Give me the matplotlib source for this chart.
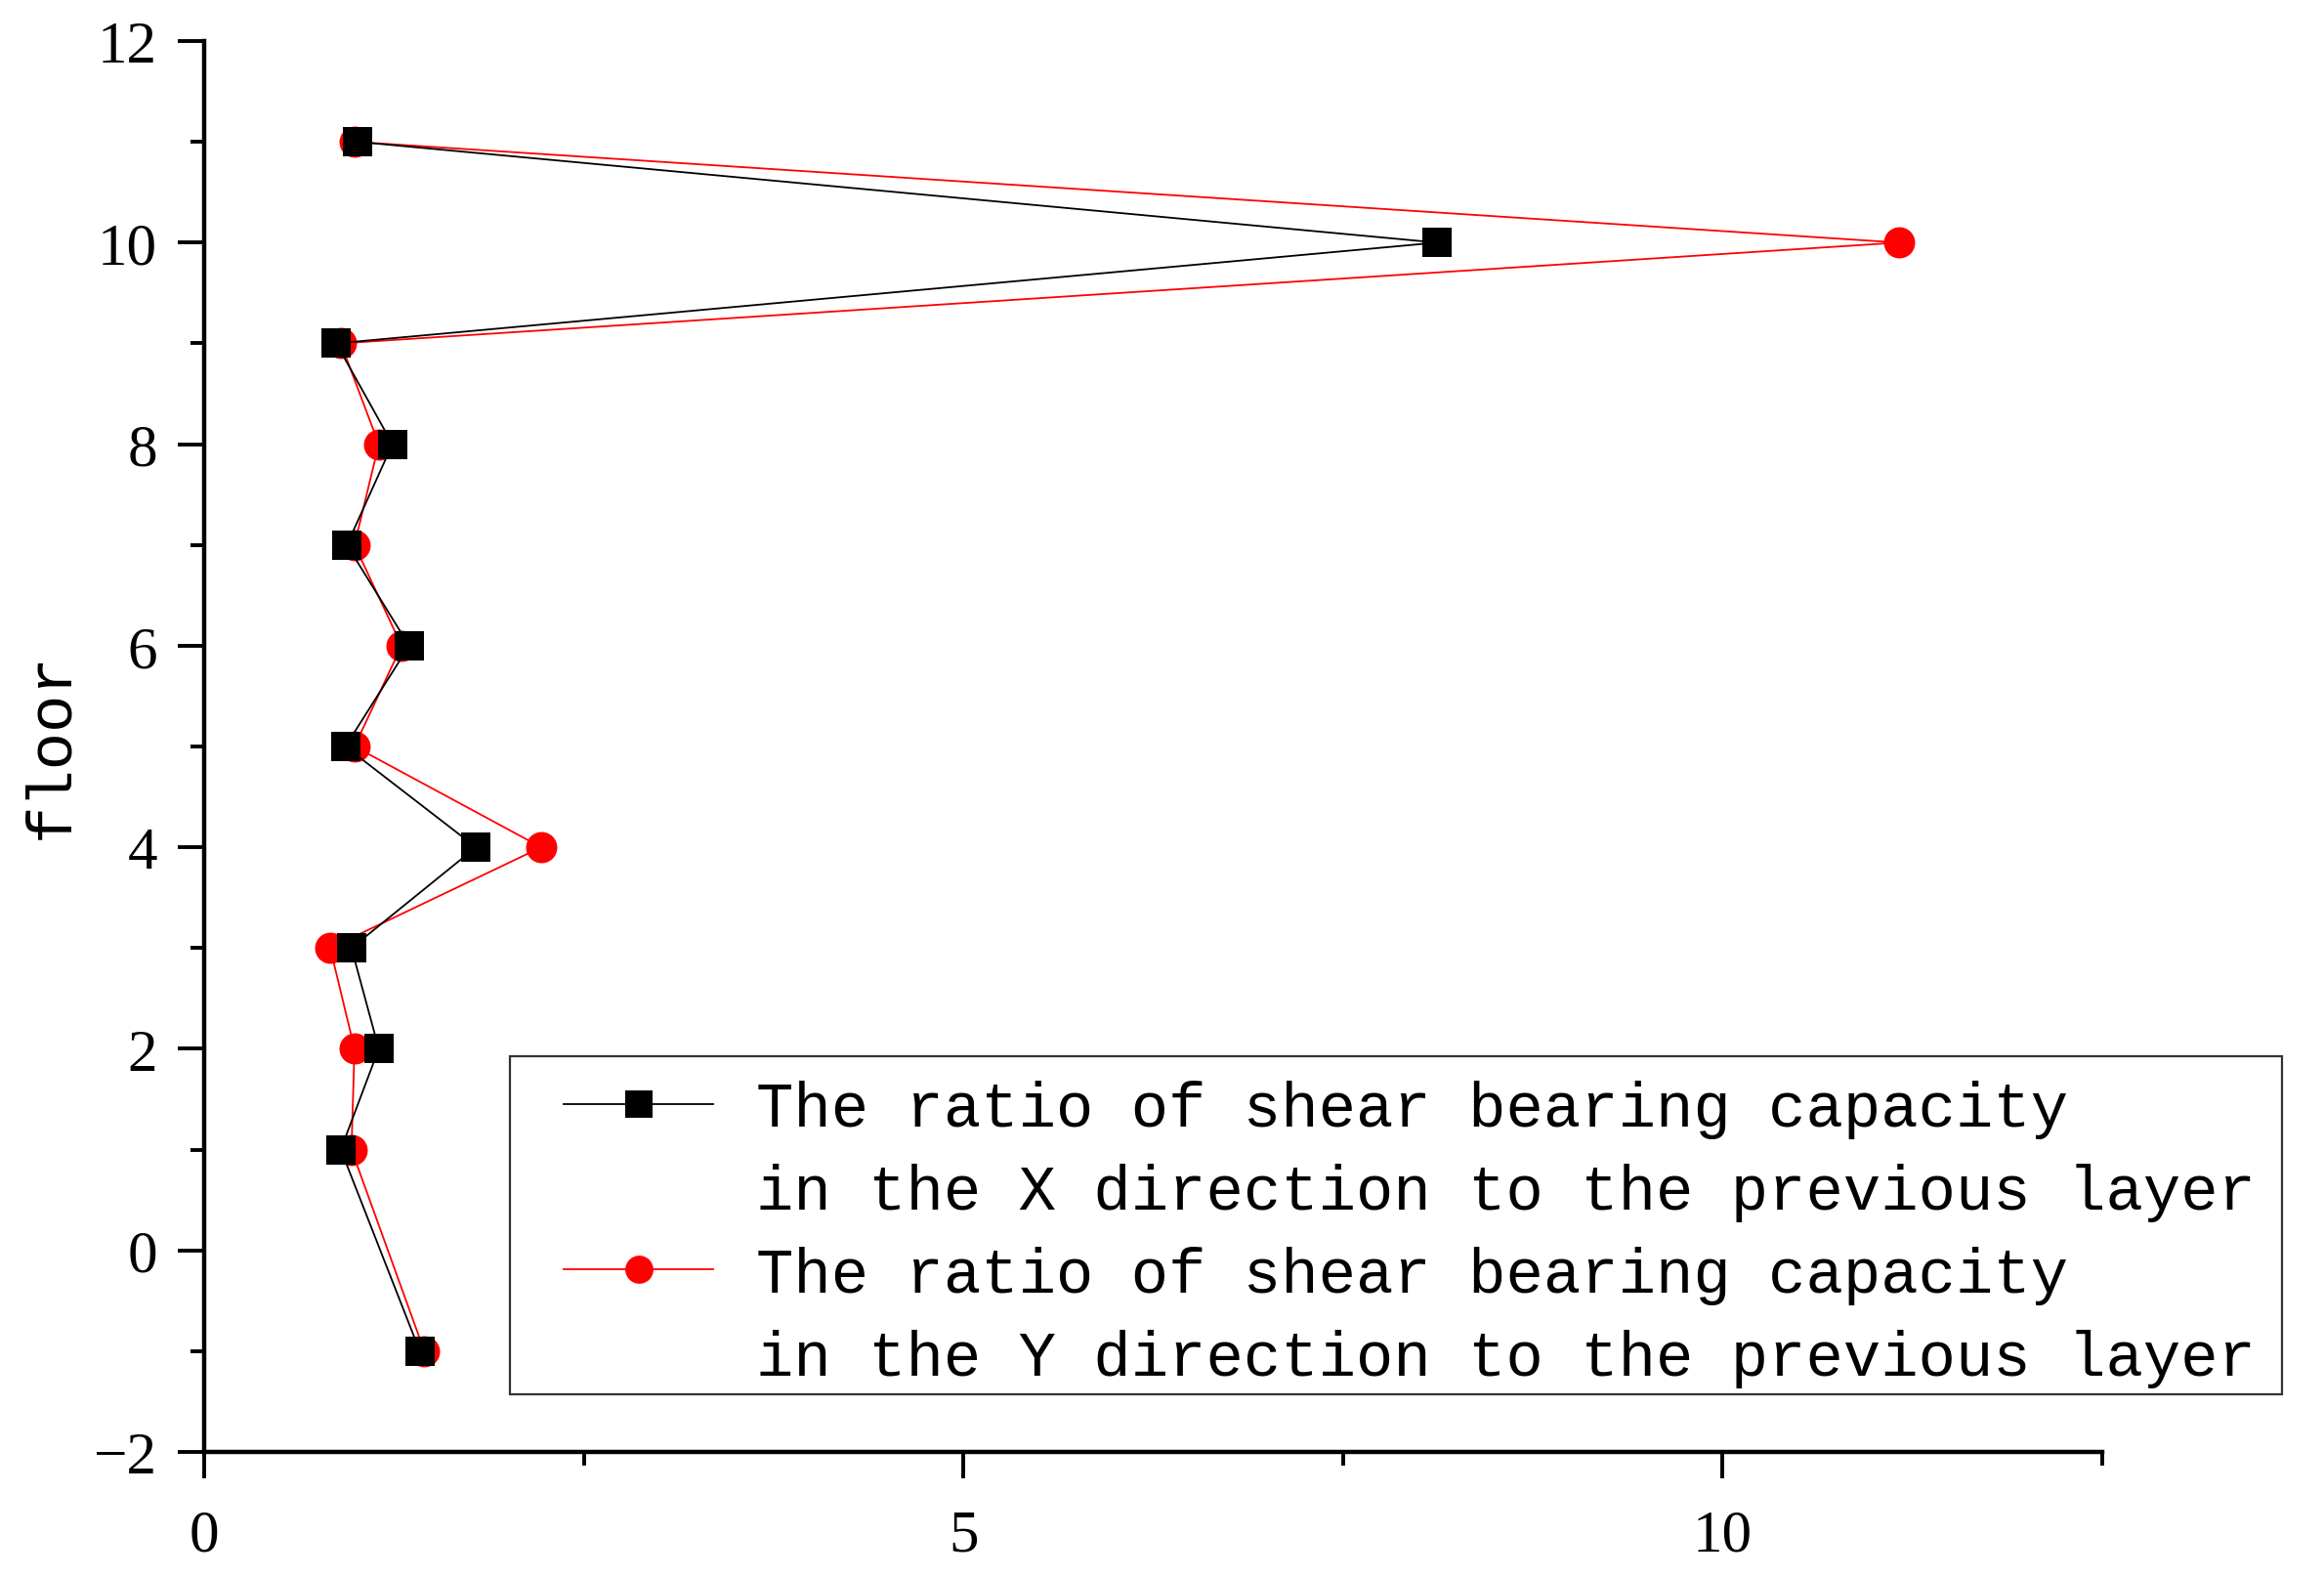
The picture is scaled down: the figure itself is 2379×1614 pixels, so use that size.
import matplotlib
matplotlib.use("Agg")
import matplotlib.pyplot as plt
from matplotlib.lines import Line2D
from matplotlib.patches import Rectangle
from matplotlib.ticker import MultipleLocator

floors = [11, 10, 9, 8, 7, 6, 5, 4, 3, 2, 1, -1]
ratio_x = [1.01, 8.12, 0.87, 1.24, 0.94, 1.35, 0.93, 1.79, 0.97, 1.15, 0.90, 1.42]
ratio_y = [0.99, 11.16, 0.90, 1.15, 0.99, 1.30, 0.99, 2.22, 0.83, 0.99, 0.97, 1.45]
labels_x = ["The ratio of shear bearing capacity",
            "in the X direction to the previous layer"]
labels_y = ["The ratio of shear bearing capacity",
            "in the Y direction to the previous layer"]
ylabel = "floor"
xticks = [0, 5, 10]
yticks = [-2, 0, 2, 4, 6, 8, 10, 12]

W, H = 2379, 1615
fig = plt.figure(figsize=(W / 100, H / 100), dpi=100)
ax = fig.add_axes([209 / W, (H - 1487) / H, (2152 - 209) / W, (1487 - 43) / H])

ly, = ax.plot(ratio_y, floors, color="#ff0000", lw=1.3, marker="o", ms=23,
              markeredgewidth=0, zorder=3)
lx, = ax.plot(ratio_x, floors, color="black", lw=1.3, marker="s", ms=22,
              markeredgewidth=0, zorder=4)

ax.set_xlim(0, 12.5)
ax.set_ylim(-2, 12)
ax.set_xticks(xticks)
ax.set_yticks(yticks)
ax.xaxis.set_minor_locator(MultipleLocator(2.5))
ax.yaxis.set_minor_locator(MultipleLocator(1))
for s in ["top", "right"]:
    ax.spines[s].set_visible(False)
for s in ["left", "bottom"]:
    ax.spines[s].set_linewidth(3.2)

ax.tick_params(axis="both", which="major", length=19.5, width=2.8, direction="out")
ax.tick_params(axis="both", which="minor", length=10, width=2.8, direction="out")
ax.tick_params(axis="x", which="major", pad=22)
ax.tick_params(axis="y", which="major", pad=15)
for lab in ax.get_xticklabels() + ax.get_yticklabels():
    lab.set_fontfamily("Liberation Serif")
    lab.set_fontsize(44)

ax.set_ylabel(ylabel, fontfamily="Liberation Mono", fontsize=46)
ax.yaxis.set_label_coords(82 / W, (H - 763) / H, transform=fig.transFigure)

# legend frame
fig.patches.append(Rectangle((522 / W, (H - 1428) / H), (2336 - 522) / W, (1428 - 1082) / H,
                             transform=fig.transFigure, fill=False, edgecolor="#333333",
                             linewidth=1.6, zorder=5))

blank = Line2D([], [], linestyle="none")
handles = [lx, blank, ly, blank]
labels = [labels_x[0], labels_x[1], labels_y[0], labels_y[1]]
leg = fig.legend(handles, labels, loc="upper left",
                 bbox_to_anchor=(577 / W, (H - 1106) / H),
                 bbox_transform=fig.transFigure,
                 prop=dict(family="Liberation Mono", size=46),
                 frameon=False,
                 handlelength=2.4, handletextpad=0.68, labelspacing=0.39,
                 borderpad=0, borderaxespad=0, markerscale=0.9)

fig.savefig("out.png", dpi=100)
